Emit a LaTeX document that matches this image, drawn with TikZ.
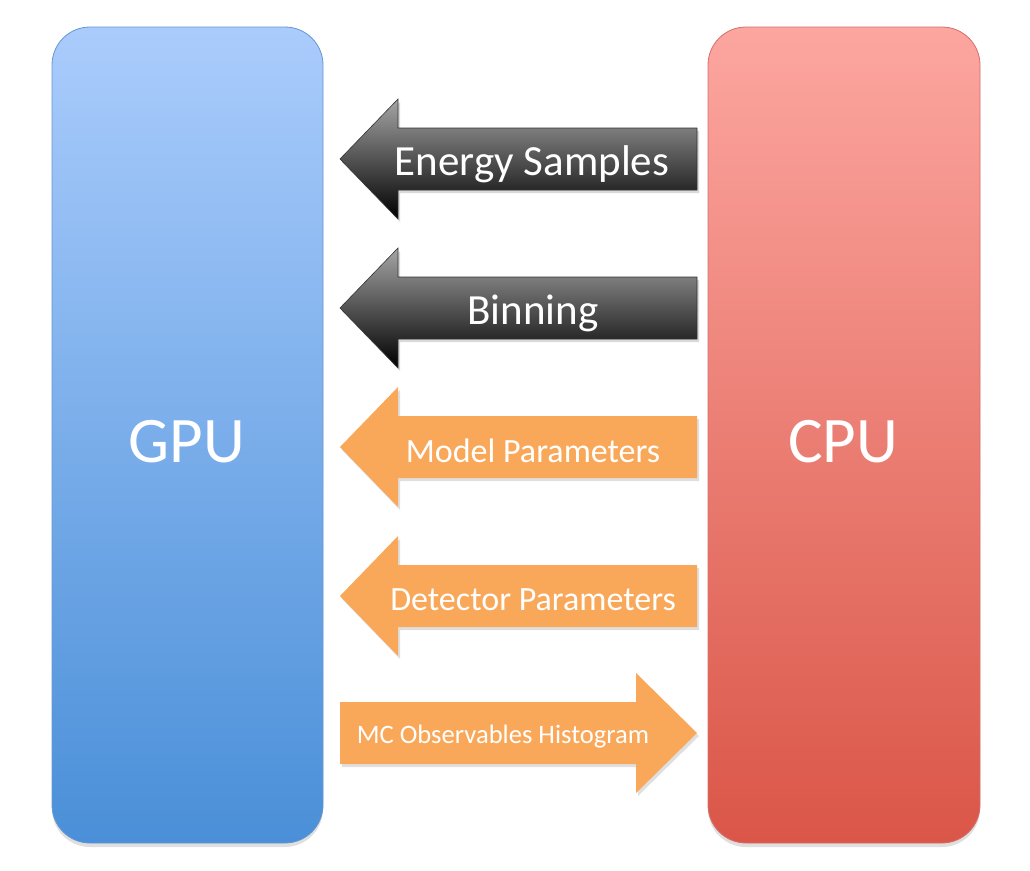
\documentclass[tikz,border=0pt]{standalone}
\usepackage{fontspec}
\setmainfont{Carlito}
\usetikzlibrary{shadows}
\definecolor{gputop}{RGB}{170,204,252}
\definecolor{gpubot}{RGB}{74,143,216}
\definecolor{gpuedge}{RGB}{100,150,210}
\definecolor{cputop}{RGB}{252,166,160}
\definecolor{cpubot}{RGB}{218,86,72}
\definecolor{cpuedge}{RGB}{215,110,105}
\definecolor{orng}{RGB}{249,168,90}
\definecolor{darktop}{RGB}{165,165,165}
\tikzset{
  unitbox/.style={rounded corners=38pt, line width=0.8pt,
    drop shadow={opacity=0.25, shadow xshift=0pt, shadow yshift=-4pt}},
  gpubox/.style={unitbox, draw=gpuedge, top color=gputop, bottom color=gpubot},
  cpubox/.style={unitbox, draw=cpuedge, top color=cputop, bottom color=cpubot},
  darkarrow/.style={draw=black!80, line width=0.6pt, top color=darktop, bottom color=black,
    drop shadow={opacity=0.3, shadow xshift=2pt, shadow yshift=-3pt}},
  orangearrow/.style={fill=orng,
    drop shadow={opacity=0.25, shadow xshift=2pt, shadow yshift=-3pt}},
  bigtxt/.style={text=white, font=\fontsize{65}{70}\selectfont},
  lbl/.style={text=white, inner sep=0pt},
}
\begin{document}
\begin{tikzpicture}[x=1pt,y=-1pt]
\useasboundingbox (0,0) rectangle (1030,870);
% boxes
\path[gpubox] (52,27) rectangle (323,843);
\path[cpubox] (708,27) rectangle (980,843);
\node[bigtxt] (gpu) at (187,442) {GPU};
\node[bigtxt] (cpu) at (843,442) {CPU};
% Energy samples (cy=159)
\path[darkarrow] (697,128) -- (398,128) -- (398,99) -- (340,159) -- (398,219) -- (398,190) -- (697,190) -- cycle;
\node[lbl, font=\fontsize{43}{46}\selectfont] (energy) at (532,164) {Energy Samples};
% Binning (cy=308)
\path[darkarrow] (697,277) -- (398,277) -- (398,248) -- (340,308) -- (398,368) -- (398,339) -- (697,339) -- cycle;
\node[lbl, font=\fontsize{43}{46}\selectfont] (binning) at (533,313) {Binning};
% Model parameters (cy=447)
\path[orangearrow] (697,416) -- (398,416) -- (398,387) -- (340,447) -- (398,507) -- (398,478) -- (697,478) -- cycle;
\node[lbl, font=\fontsize{34}{37}\selectfont] (model) at (533,451) {Model Parameters};
% Detector parameters (cy=596)
\path[orangearrow] (697,565) -- (398,565) -- (398,536) -- (340,596) -- (398,656) -- (398,627) -- (697,627) -- cycle;
\node[lbl, font=\fontsize{34}{37}\selectfont] (detector) at (533,600) {Detector Parameters};
% MC observables histogram (cy=733)
\path[orangearrow] (340,702) -- (636,702) -- (636,673) -- (697,733) -- (636,793) -- (636,764) -- (340,764) -- cycle;
\node[lbl, font=\fontsize{26.6}{29}\selectfont] (mc) at (503,737) {MC Observables Histogram};
\end{tikzpicture}
\end{document}
